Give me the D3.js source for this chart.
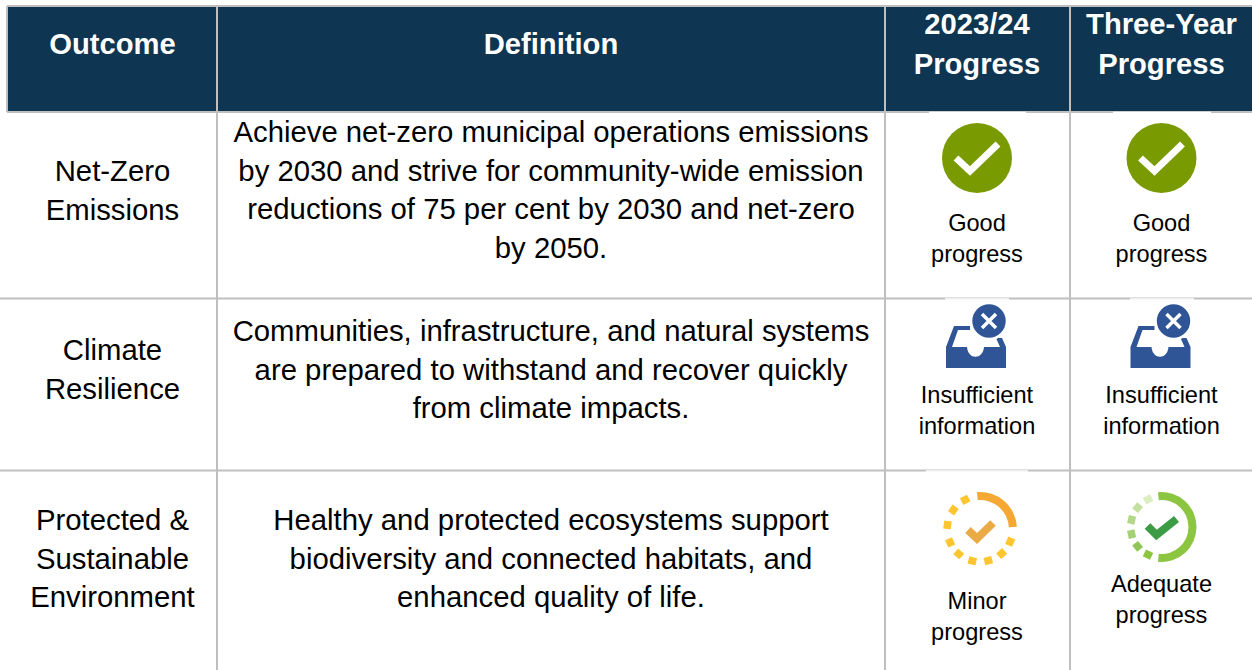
<!DOCTYPE html>
<html>
<head>
<meta charset="utf-8">
<script src="https://cdnjs.cloudflare.com/ajax/libs/d3/7.8.5/d3.min.js"></script>
<style>
html, body { margin: 0; padding: 0; background: #fff; overflow: hidden; }
text { font-family: "Liberation Sans", Arial, sans-serif; }
</style>
</head>
<body>
<div id="chart"></div>
<script>
"use strict"

// table content
var headers = [["Outcome"], ["Definition"], ["2023/24", "Progress"], ["Three-Year", "Progress"]]
var outcomes = [
    ["Net-Zero", "Emissions"],
    ["Climate", "Resilience"],
    ["Protected &", "Sustainable", "Environment"]
]
var definitions = [
    ["Achieve net-zero municipal operations emissions", "by 2030 and strive for community-wide emission", "reductions of 75 per cent by 2030 and net-zero", "by 2050."],
    ["Communities, infrastructure, and natural systems", "are prepared to withstand and recover quickly", "from climate impacts."],
    ["Healthy and protected ecosystems support", "biodiversity and connected habitats, and", "enhanced quality of life."]
]
var progress_2324 = ["good", "none", "minor"]
var progress_three = ["good", "none", "adequate"]
var status_labels = {
    good: ["Good", "progress"],
    none: ["Insufficient", "information"],
    minor: ["Minor", "progress"],
    adequate: ["Adequate", "progress"]
}

// layout
var width = 1252, height = 670
var col_edges = [7, 217, 885, 1070, 1252]
var row_edges = [6, 112, 298.5, 470.5, 670]
var col_centers = [112.5, 551, 977, 1161.5]
var line_step = 38.5
var status_step = 31
var header_step = 40.5
var header_first = [44, 44, 23.5, 23.5]
var outcome_first = [171, 350, 520]
var definition_first = [132, 331, 520]
var icon_y = {good: 158, none: 340, minor: 529, adequate: 527}
var icon_dx = {good: 0, none: 0, minor: 3, adequate: 0}
var label_first = {good: 223, none: 395, minor: 600.5, adequate: 584}
var border = "#bfbfbf"
// the icons in the source are pasted images, their white boxes clip the rules
var rule_gaps = [
    [929, 1026, 112.5, "#ffffff"], [1113, 1211, 112.5, "#ffffff"],
    [945, 1009, 299, "#ffffff"], [1130, 1194, 299, "#ffffff"],
    [926, 1028, 471, "#ffffff"]
]

var svg = d3.select("#chart").append("svg")
    .attr("width", width)
    .attr("height", height)
    .style("display", "block")

// header band
svg.append("rect")
    .attr("x", col_edges[0]).attr("y", row_edges[0])
    .attr("width", width - col_edges[0]).attr("height", row_edges[1] - row_edges[0])
    .attr("fill", "#0e3551")

// grid lines
svg.append("path")
    .attr("d", "M" + col_edges[0] + "," + row_edges[0] + "H" + width + "M" + col_edges[0] + "," + row_edges[0] + "V" + row_edges[1])
    .attr("stroke", border).attr("stroke-width", 2).attr("fill", "none")

svg.selectAll("line.row")
    .data(row_edges.slice(1, 4))
    .enter().append("line")
    .attr("class", "row")
    .attr("x1", function(d, i) { return i == 0 ? col_edges[0] : 0 })
    .attr("x2", width)
    .attr("y1", function(d) { return d })
    .attr("y2", function(d) { return d })
    .attr("stroke", border).attr("stroke-width", 2)

svg.selectAll("line.col")
    .data(col_edges.slice(1, 4))
    .enter().append("line")
    .attr("class", "col")
    .attr("x1", function(d) { return d })
    .attr("x2", function(d) { return d })
    .attr("y1", row_edges[0])
    .attr("y2", height)
    .attr("stroke", border).attr("stroke-width", 2)

svg.selectAll("line.gap")
    .data(rule_gaps)
    .enter().append("line")
    .attr("class", "gap")
    .attr("x1", function(d) { return d[0] })
    .attr("x2", function(d) { return d[1] })
    .attr("y1", function(d) { return d[2] })
    .attr("y2", function(d) { return d[2] })
    .attr("stroke", function(d) { return d[3] }).attr("stroke-width", 1.5)

function draw_lines(lines, x, y, size, color, step, weight) {
    svg.append("g").selectAll("text")
        .data(lines)
        .enter().append("text")
        .attr("x", x)
        .attr("y", function(d, i) { return y + i * step })
        .attr("dy", "0.35em")
        .attr("text-anchor", "middle")
        .attr("font-size", size)
        .attr("font-weight", weight || "normal")
        .attr("fill", color)
        .text(function(d) { return d })
}

headers.forEach(function(lines, i) {
    draw_lines(lines, col_centers[i], header_first[i], 29.2, "#ffffff", header_step, "bold")
})
outcomes.forEach(function(lines, i) {
    draw_lines(lines, col_centers[0], outcome_first[i], 29.3, "#000000", line_step)
})
definitions.forEach(function(lines, i) {
    draw_lines(lines, col_centers[1], definition_first[i], 29.3, "#000000", line_step)
})

// ring icon with a solid arc and dashed remainder
var arc = d3.arc()

function draw_ring(g, o) {
    g.append("path")
        .attr("d", arc({innerRadius: o.r - 8, outerRadius: o.r, startAngle: o.start, endAngle: o.end}))
        .attr("fill", o.color)
    g.selectAll("rect")
        .data(o.dashes)
        .enter().append("rect")
        .attr("x", -4).attr("y", -o.r + 0.5)
        .attr("width", 8).attr("height", 7.5)
        .attr("transform", function(d) { return "rotate(" + d.angle + ")" })
        .attr("fill", function(d) { return d.color })
    g.append("path")
        .attr("d", o.check)
        .attr("fill", "none").attr("stroke", o.check_color).attr("stroke-width", 8)
}

var minor_dash_angles = [-27, -54.5, -83, -114, -139.5, -166.5, 165.4, 138.6, 112.8]
var adequate_dash_angles = [-25.8, -51, -76.6, -103.4, -129, -154]
var adequate_dash_colors = ["#dcedc4", "#c4e0a0", "#b3d88a", "#a6d175", "#8fc655", "#8cc540"]

var icons = {
    good: function(g) {
        g.append("circle").attr("r", 35).attr("fill", "#7a9a01")
        g.append("path")
            .attr("d", "M-21,0L-7,13L21,-14")
            .attr("fill", "none").attr("stroke", "#ffffff").attr("stroke-width", 7)
    },
    none: function(g) {
        var blue = "#2f5597"
        // tray outline and front
        g.append("path")
            .attr("d", "M-31,7L-23,-14H-7V-10H-19L-25,7H-10C-9,20,6,20,7,7H23L19,-2H25L29,7V28H-31Z")
            .attr("fill", blue)
        g.append("circle").attr("cx", 12).attr("cy", -19).attr("r", 19.5).attr("fill", "#ffffff")
        g.append("circle").attr("cx", 12).attr("cy", -19).attr("r", 16.7).attr("fill", blue)
        g.append("path")
            .attr("d", "M5,-26L19,-12M19,-26L5,-12")
            .attr("stroke", "#ffffff").attr("stroke-width", 3.5)
    },
    minor: function(g) {
        draw_ring(g, {
            r: 37, start: -0.08, end: Math.PI / 2 - 0.06, color: "#f5a833",
            dashes: minor_dash_angles.map(function(a) { return {angle: a, color: "#fdc52f"} }),
            check: "M-12,1L-3,9.5L13,-6", check_color: "#eaaa45"
        })
    },
    adequate: function(g) {
        draw_ring(g, {
            r: 35, start: -0.1, end: Math.PI + 0.1, color: "#8cc540",
            dashes: adequate_dash_angles.map(function(a, i) { return {angle: a, color: adequate_dash_colors[i]} }),
            check: "M-14,-1L-5,8L15,-8", check_color: "#3c9c46"
        })
    }
}

function draw_status(col, status) {
    var x = col_centers[col]
    icons[status](svg.append("g").attr("transform", "translate(" + (x + icon_dx[status]) + "," + icon_y[status] + ")"))
    draw_lines(status_labels[status], x, label_first[status], 23.6, "#000000", status_step)
}

progress_2324.forEach(function(s) { draw_status(2, s) })
progress_three.forEach(function(s) { draw_status(3, s) })
</script>
</body>
</html>
